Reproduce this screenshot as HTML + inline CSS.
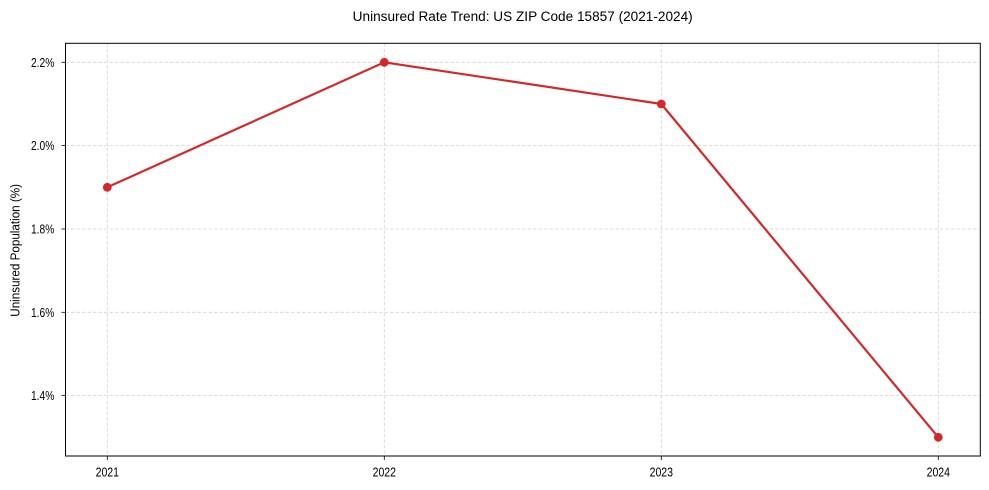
<!DOCTYPE html>
<html>
<head>
<meta charset="utf-8">
<style>
  html, body { margin: 0; padding: 0; background: #ffffff; }
  svg { display: block; }
  text { font-family: "Liberation Sans", Arial, sans-serif; fill: #000; }
</style>
</head>
<body>
<svg width="989" height="490" viewBox="0 0 989 490" xmlns="http://www.w3.org/2000/svg">
  <rect x="0" y="0" width="989" height="490" fill="#ffffff"/>

  <!-- Title -->
  <text x="352.7" y="21" font-size="13.5" textLength="340" lengthAdjust="spacingAndGlyphs">Uninsured Rate Trend: US ZIP Code 15857 (2021-2024)</text>

  <!-- Grid lines -->
  <g stroke="#d4d4d4" stroke-width="0.8" stroke-dasharray="3.5,2" fill="none">
    <line x1="65.5" y1="62.3" x2="980.3" y2="62.3"/>
    <line x1="65.5" y1="145.6" x2="980.3" y2="145.6"/>
    <line x1="65.5" y1="229" x2="980.3" y2="229"/>
    <line x1="65.5" y1="312.3" x2="980.3" y2="312.3"/>
    <line x1="65.5" y1="395.6" x2="980.3" y2="395.6"/>
    <line x1="107.3" y1="43.3" x2="107.3" y2="456"/>
    <line x1="384.3" y1="43.3" x2="384.3" y2="456"/>
    <line x1="661.3" y1="43.3" x2="661.3" y2="456"/>
    <line x1="938.3" y1="43.3" x2="938.3" y2="456"/>
  </g>

  <!-- Axes frame -->
  <rect x="65.5" y="43.3" width="914.8" height="412.7" fill="none" stroke="#000" stroke-width="1"/>

  <!-- Ticks -->
  <g stroke="#000" stroke-width="0.8">
    <line x1="61.5" y1="62.3" x2="65.5" y2="62.3"/>
    <line x1="61.5" y1="145.6" x2="65.5" y2="145.6"/>
    <line x1="61.5" y1="229" x2="65.5" y2="229"/>
    <line x1="61.5" y1="312.3" x2="65.5" y2="312.3"/>
    <line x1="61.5" y1="395.6" x2="65.5" y2="395.6"/>
    <line x1="107.3" y1="456" x2="107.3" y2="460"/>
    <line x1="384.3" y1="456" x2="384.3" y2="460"/>
    <line x1="661.3" y1="456" x2="661.3" y2="460"/>
    <line x1="938.3" y1="456" x2="938.3" y2="460"/>
  </g>

  <!-- Y tick labels -->
  <g font-size="12.5">
    <text x="31" y="66.8" textLength="23.3" lengthAdjust="spacingAndGlyphs">2.2%</text>
    <text x="31" y="150.1" textLength="23.3" lengthAdjust="spacingAndGlyphs">2.0%</text>
    <text x="31" y="233.5" textLength="23.3" lengthAdjust="spacingAndGlyphs">1.8%</text>
    <text x="31" y="316.8" textLength="23.3" lengthAdjust="spacingAndGlyphs">1.6%</text>
    <text x="31" y="400.1" textLength="23.3" lengthAdjust="spacingAndGlyphs">1.4%</text>
  </g>

  <!-- X tick labels -->
  <g font-size="12.5">
    <text x="95.6" y="476.3" textLength="23.4" lengthAdjust="spacingAndGlyphs">2021</text>
    <text x="372.6" y="476.3" textLength="23.4" lengthAdjust="spacingAndGlyphs">2022</text>
    <text x="649.6" y="476.3" textLength="23.4" lengthAdjust="spacingAndGlyphs">2023</text>
    <text x="926.6" y="476.3" textLength="23.4" lengthAdjust="spacingAndGlyphs">2024</text>
  </g>

  <!-- Y axis label -->
  <text transform="translate(19.5,316.7) rotate(-90)" x="0" y="0" font-size="12.5" textLength="132.7" lengthAdjust="spacingAndGlyphs">Uninsured Population (%)</text>

  <!-- Series -->
  <polyline points="107.3,187.3 384.3,62.3 661.3,104 938.3,437.3" fill="none" stroke="#d62728" stroke-width="2.2" stroke-linejoin="round"/>
  <g fill="#d62728">
    <circle cx="107.3" cy="187.3" r="4.4"/>
    <circle cx="384.3" cy="62.3" r="4.4"/>
    <circle cx="661.3" cy="104" r="4.4"/>
    <circle cx="938.3" cy="437.3" r="4.4"/>
  </g>
</svg>
</body>
</html>
